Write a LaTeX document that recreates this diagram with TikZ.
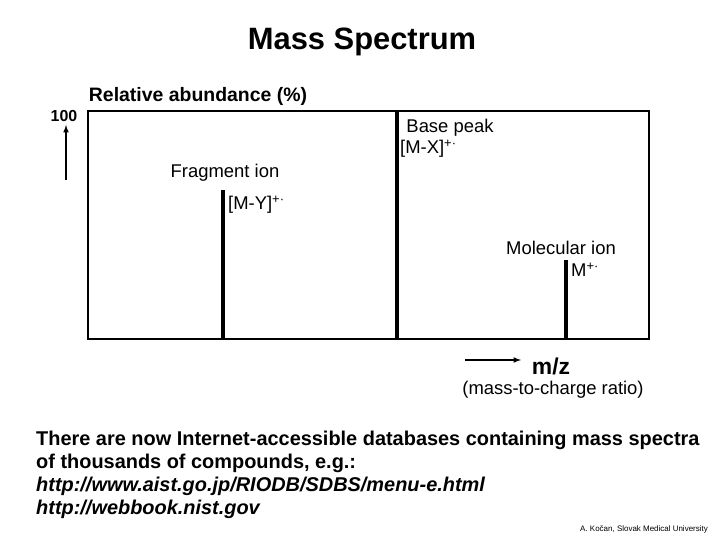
\documentclass[tikz,border=0pt]{standalone}
\usepackage{fontspec}
\setmainfont{Liberation Sans}
\begin{document}
\begin{tikzpicture}[x=1bp,y=-1bp,
  peak/.style={line width=4bp},
  lbl/.style={inner sep=0,font=\fontsize{18.5}{20}\selectfont},
  big/.style={inner sep=0,font=\fontsize{20}{22}\selectfont\bfseries,anchor=west}]
\useasboundingbox (0,0) rectangle (720,540);
\node[inner sep=0,font=\fontsize{31}{34}\selectfont\bfseries] (title) at (362,42) {Mass Spectrum};
\node[inner sep=0,font=\fontsize{19.5}{22}\selectfont\bfseries] (ra) at (198,96) {Relative abundance (\%)};
\node[inner sep=0,font=\fontsize{16}{18}\selectfont\bfseries] (h) at (64,116) {100};
\coordinate (a1) at (66,180); \coordinate (a2) at (66,125);
\draw[line width=1.5bp,-latex] (a1) -- (a2);
\draw[line width=1.5bp] (88,111) rectangle (649,339);
\coordinate (b1) at (397,111); \coordinate (b2) at (397,339);
\coordinate (f1) at (223,190); \coordinate (f2) at (223,339);
\coordinate (m1) at (566,260); \coordinate (m2) at (566,339);
\draw[peak] (b1) -- (b2);
\draw[peak] (f1) -- (f2);
\draw[peak] (m1) -- (m2);
\node[lbl] (bp) at (450,128) {Base peak};
\node[lbl,anchor=west] (mx) at (400,149) {[M-X]\textsuperscript{+·}};
\node[lbl] (fi) at (225,173) {Fragment ion};
\node[lbl,anchor=west] (my) at (228,205) {[M-Y]\textsuperscript{+·}};
\node[lbl] (mi) at (561,248) {Molecular ion};
\node[lbl,anchor=west] (mp) at (571,270) {M\textsuperscript{+·}};
\coordinate (z1) at (465,360); \coordinate (z2) at (521,360);
\draw[line width=1.5bp,-latex] (z1) -- (z2);
\node[inner sep=0,font=\fontsize{23}{25}\selectfont\bfseries] (mz) at (551,366) {m/z};
\node[lbl] (mc) at (553,390) {(mass-to-charge ratio)};
\node[big] (t1) at (36,440) {There are now Internet-accessible databases containing mass spectra};
\node[big] (t2) at (36,463) {of thousands of compounds, e.g.:};
\node[big,font=\fontsize{20}{22}\selectfont\bfseries\itshape] (t3) at (36,486) {http://www.aist.go.jp/RIODB/SDBS/menu-e.html};
\node[big,font=\fontsize{20}{22}\selectfont\bfseries\itshape] (t4) at (36,509) {http://webbook.nist.gov};
\node[inner sep=0,font=\fontsize{8}{9}\selectfont,anchor=east] (cr) at (708,529) {A. Kočan, Slovak Medical University};
\end{tikzpicture}
\end{document}
